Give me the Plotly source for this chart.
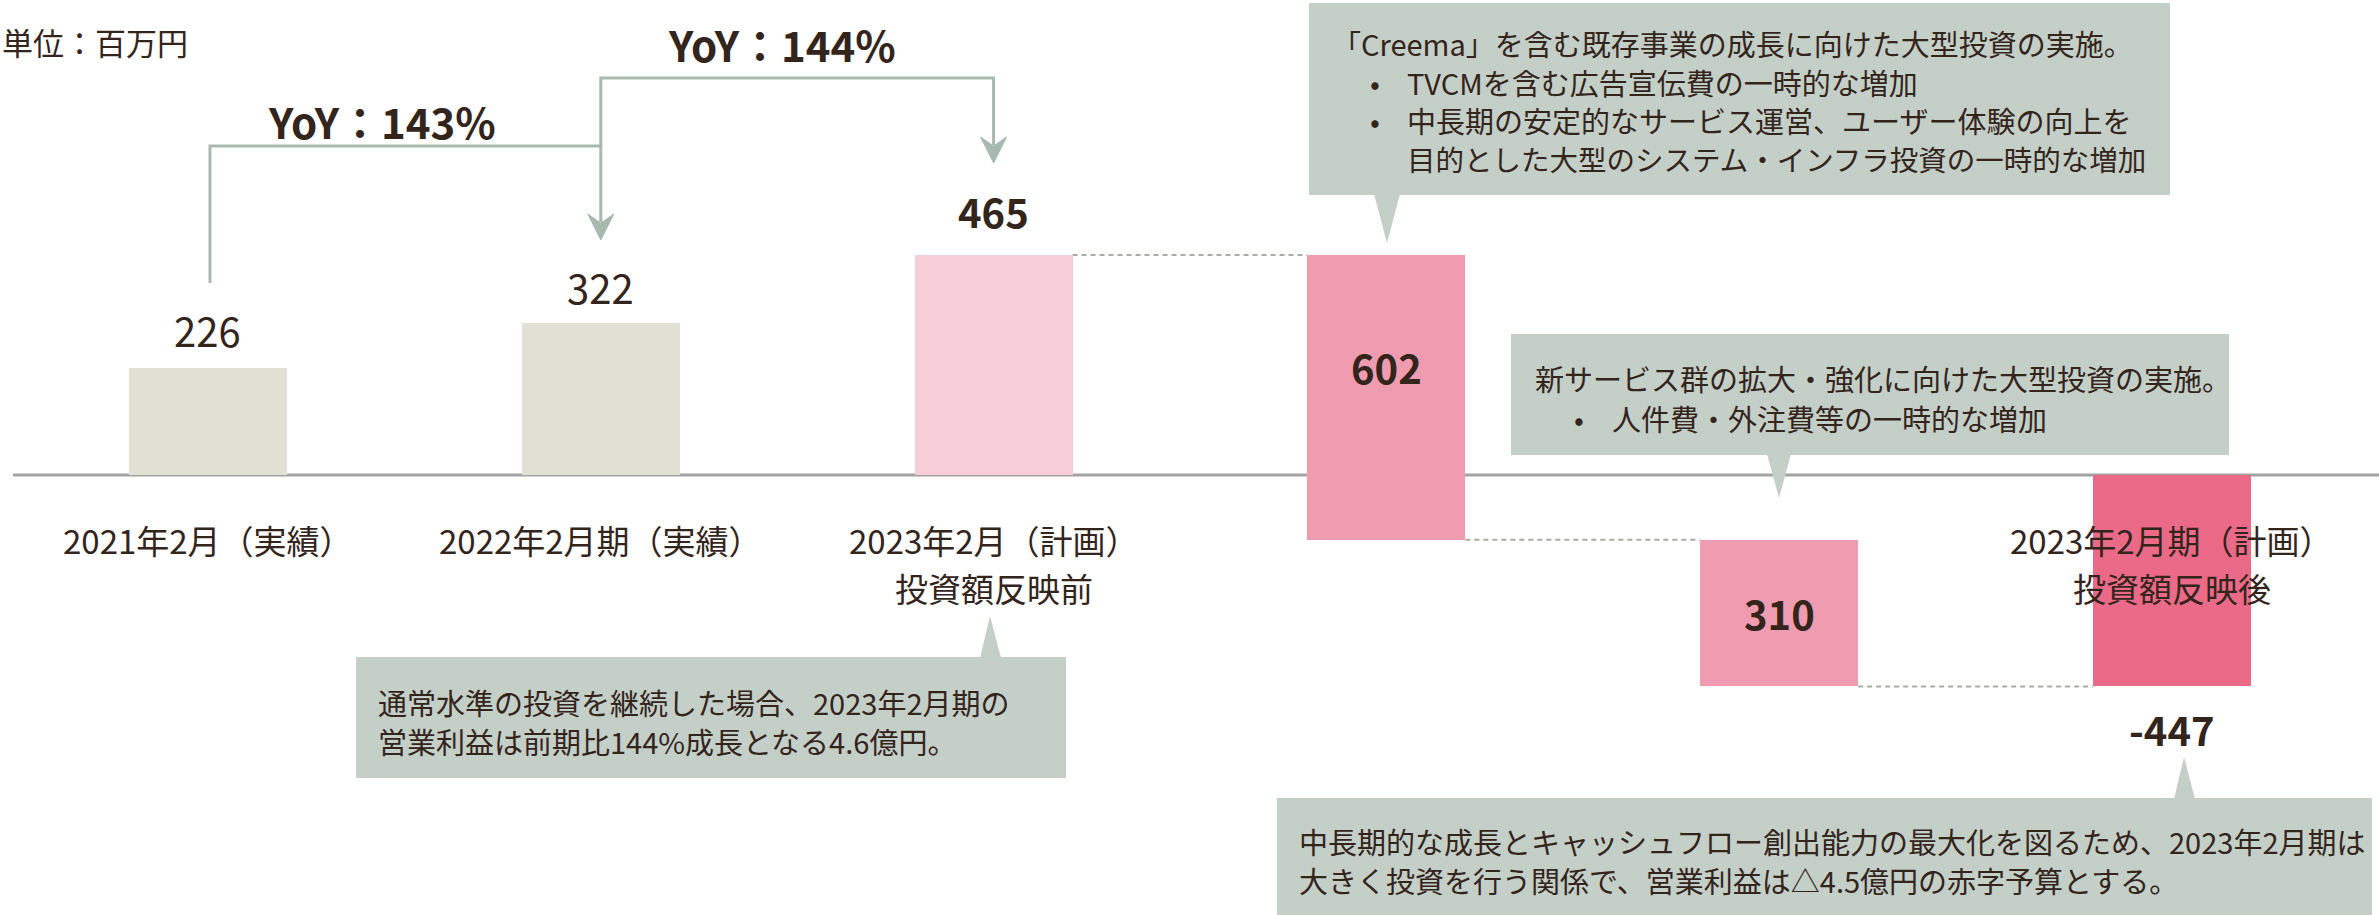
import plotly.graph_objects as go

W, H = 2379, 915

# ---------------- data ----------------
categories = ["2021年2月（実績）", "2022年2月期（実績）", "2023年2月（計画）", "", "", "2023年2月期（計画）"]
sublabels = ["", "", "投資額反映前", "", "", "投資額反映後"]
values = [226, 322, 465, 602, 310, -447]
measures = ["absolute", "absolute", "absolute", "decrease", "decrease", "total"]
value_labels = ["226", "322", "465", "602", "310", "-447"]
bold_labels = [False, False, True, True, True, True]
bar_colors = ["#E0E0D5", "#E0E0D5", "#F7CDD8", "#F09CB0", "#F09CB0", "#EB6A88"]

yoy_labels = ["YoY：143%", "YoY：144%"]
unit_label = "単位：百万円"

callout1 = ["「Creema」を含む既存事業の成長に向けた大型投資の実施。",
            "TVCMを含む広告宣伝費の一時的な増加",
            "中長期の安定的なサービス運営、ユーザー体験の向上を",
            "目的とした大型のシステム・インフラ投資の一時的な増加"]
callout2 = ["新サービス群の拡大・強化に向けた大型投資の実施。",
            "人件費・外注費等の一時的な増加"]
callout3 = ["通常水準の投資を継続した場合、2023年2月期の",
            "営業利益は前期比144%成長となる4.6億円。"]
callout4 = ["中長期的な成長とキャッシュフロー創出能力の最大化を図るため、2023年2月期は",
            "大きく投資を行う関係で、営業利益は△4.5億円の赤字予算とする。"]

# ---------------- waterfall geometry from data ----------------
bases, heights, ends = [], [], []
running = 0
for v, m in zip(values, measures):
    if m == "absolute":
        bases.append(0); heights.append(v); running = v
    elif m == "decrease":
        bases.append(running); heights.append(-v); running -= v
    else:
        bases.append(0); heights.append(running)
    ends.append(running)

xs = list(range(len(values)))
XR = [-0.5295, 5.527]
YR = [-930.2, 1004.2]

FONT = "Noto Sans CJK JP"
TXT = "#33241C"
BOX = "#C4CFC7"
ARROW = "#A8B9AF"


def px(x):
    return x / W


def py(y):
    return 1 - y / H


def bar_px(i):
    return (i - XR[0]) / (XR[1] - XR[0]) * W


fig = go.Figure()
fig.add_trace(go.Bar(
    x=xs, y=heights, base=bases, width=0.402,
    marker=dict(color=bar_colors, line=dict(width=0)),
    hoverinfo="skip", showlegend=False,
))

shapes = []
annotations = []

# axis base line
shapes.append(dict(type="line", xref="paper", yref="y", x0=px(13), x1=1, y0=0, y1=0,
                   line=dict(color="#A3A3A3", width=3), layer="below"))

# connectors
for i in (2, 3, 4):
    shapes.append(dict(type="line", xref="x", yref="y", x0=i + 0.201, x1=i + 1 - 0.201,
                       y0=ends[i], y1=ends[i],
                       line=dict(color="#ABABA3", width=2, dash="5px,4px"), layer="below"))

# value labels
for i, t in enumerate(value_labels):
    top = max(bases[i], bases[i] + heights[i])
    bot = min(bases[i], bases[i] + heights[i])
    if i in (0, 1, 2):
        y, ys = top, [38, 36, 44][i]
    elif i == 3:
        y, ys = top, -112
    elif i == 4:
        y, ys = (top + bot) / 2, 0
    else:
        y, ys = bot, -43
    txt = "<b>%s</b>" % t if bold_labels[i] else t
    annotations.append(dict(x=i, y=y, xref="x", yref="y", yshift=ys, text=txt, showarrow=False,
                            xanchor="center", yanchor="middle",
                            font=dict(family=FONT, size=40, color=TXT)))

# category labels
for i, (c, s) in enumerate(zip(categories, sublabels)):
    if c:
        annotations.append(dict(x=i, y=py(540), xref="x", yref="paper", text=c, showarrow=False,
                                xanchor="center", yanchor="middle",
                                font=dict(family=FONT, size=33, color=TXT)))
    if s:
        annotations.append(dict(x=i, y=py(588), xref="x", yref="paper", text=s, showarrow=False,
                                xanchor="center", yanchor="middle",
                                font=dict(family=FONT, size=33, color=TXT)))

# unit label
annotations.append(dict(x=0, y=py(42), xref="paper", yref="paper", text=unit_label,
                        showarrow=False, xanchor="left", yanchor="middle",
                        font=dict(family=FONT, size=31, color=TXT)))

# YoY brackets
x0p, x1p, x2p = bar_px(0) + 2, bar_px(1), bar_px(2)
bracketA = "M %f %f L %f %f L %f %f L %f %f" % (px(x0p), py(283), px(x0p), py(146),
                                                   px(x1p), py(146), px(x1p), py(222))
bracketB = "M %f %f L %f %f L %f %f L %f %f" % (px(x1p), py(146), px(x1p), py(78),
                                                   px(x2p), py(78), px(x2p), py(145))
for p in (bracketA, bracketB):
    shapes.append(dict(type="path", xref="paper", yref="paper", path=p,
                       line=dict(color=ARROW, width=3)))


def arrowhead(x, tip):
    return "M %f %f L %f %f L %f %f L %f %f Z" % (
        px(x), py(tip), px(x - 13), py(tip - 26), px(x), py(tip - 17), px(x + 13), py(tip - 26))


for x, tip in ((x1p, 240), (x2p, 163)):
    shapes.append(dict(type="path", xref="paper", yref="paper", path=arrowhead(x, tip),
                       fillcolor=ARROW, line=dict(color=ARROW, width=1)))

annotations.append(dict(x=px(382), y=py(120), xref="paper", yref="paper", text="<b>%s</b>" % yoy_labels[0],
                        showarrow=False, xanchor="center", yanchor="middle",
                        font=dict(family=FONT, size=42, color=TXT)))
annotations.append(dict(x=px(782), y=py(43), xref="paper", yref="paper", text="<b>%s</b>" % yoy_labels[1],
                        showarrow=False, xanchor="center", yanchor="middle",
                        font=dict(family=FONT, size=42, color=TXT)))


# callout boxes
def callout(x0, y0, x1, y1, tri):
    shapes.append(dict(type="rect", xref="paper", yref="paper", x0=px(x0), x1=px(x1),
                       y0=py(y0), y1=py(y1), fillcolor=BOX, line=dict(width=0), layer="above"))
    (ax, ay), (bx, by), (cx, cy) = tri
    shapes.append(dict(type="path", xref="paper", yref="paper",
                       path="M %f %f L %f %f L %f %f Z" % (px(ax), py(ay), px(bx), py(by), px(cx), py(cy)),
                       fillcolor=BOX, line=dict(width=0), layer="above"))


def line_text(x, y, t, size=29):
    annotations.append(dict(x=px(x), y=py(y), xref="paper", yref="paper", text=t, showarrow=False,
                            xanchor="left", yanchor="middle",
                            font=dict(family=FONT, size=size, color=TXT)))


callout(1309, 3, 2170, 195, ((1374, 194), (1400, 194), (1387, 243)))
line_text(1330, 43, callout1[0])
line_text(1368, 82, "•")
line_text(1405, 82, callout1[1])
line_text(1368, 120, "•")
line_text(1405, 120, callout1[2])
line_text(1405, 158, callout1[3], size=28.5)

callout(1511, 334, 2229, 455, ((1767, 454), (1791, 454), (1779, 498)))
line_text(1533, 378, callout2[0])
line_text(1572, 418, "•")
line_text(1610, 418, callout2[1])

callout(356, 657, 1066, 778, ((980, 658), (1001, 658), (990, 616)))
line_text(376, 702, callout3[0])
line_text(376, 741, callout3[1])

callout(1277, 798, 2372, 930, ((2174, 799), (2195, 799), (2184, 757)))
line_text(1297, 841, callout4[0])
line_text(1297, 880, callout4[1])

fig.update_layout(
    width=W, height=H,
    margin=dict(l=0, r=0, t=0, b=0),
    paper_bgcolor="white", plot_bgcolor="white",
    xaxis=dict(range=XR, visible=False, fixedrange=True),
    yaxis=dict(range=YR, visible=False, fixedrange=True),
    shapes=shapes, annotations=annotations,
    bargap=0, showlegend=False,
    font=dict(family=FONT, color=TXT),
)

fig.write_html("out.html", config={"displayModeBar": False},
               post_script="document.body.style.margin='0';document.body.style.overflow='hidden';")
